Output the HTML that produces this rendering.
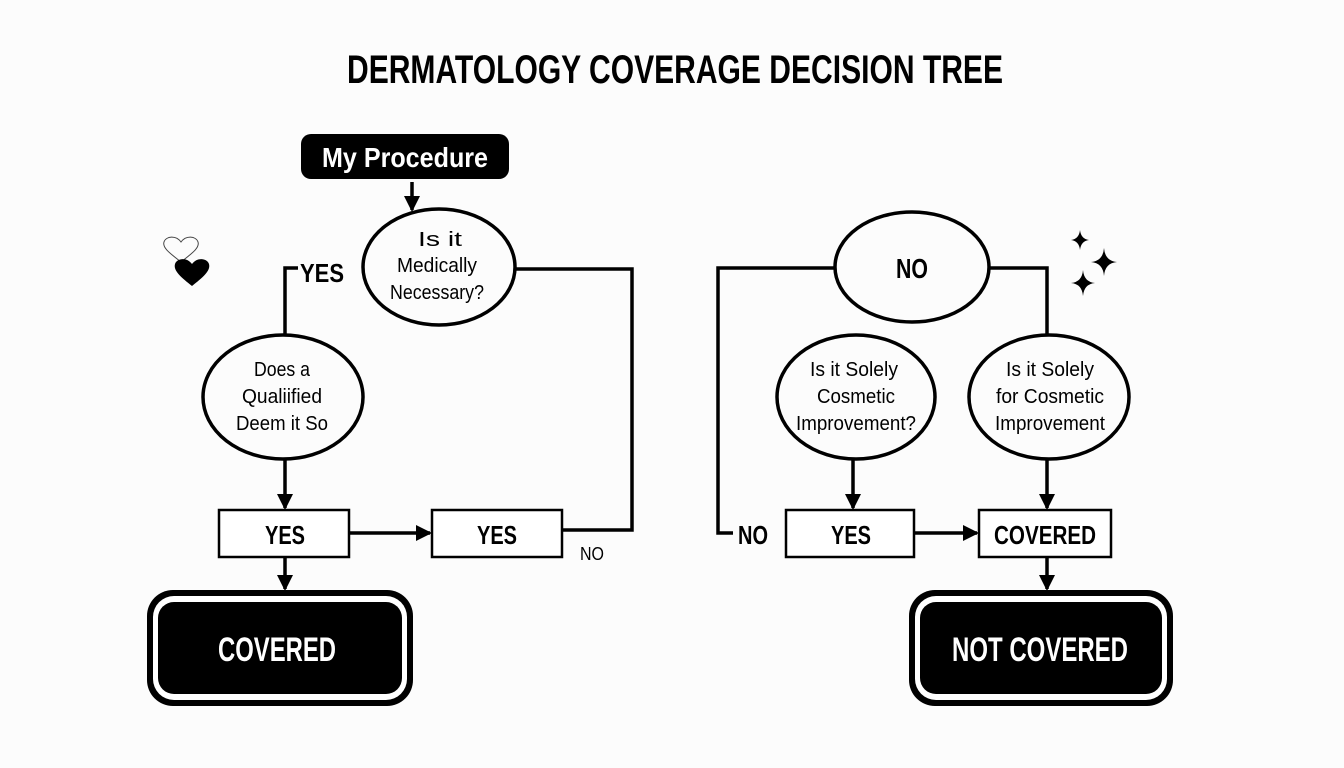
<!DOCTYPE html>
<html><head><meta charset="utf-8"><style>
html,body{margin:0;padding:0;background:#fcfcfc;}
svg{display:block}
text{font-family:"Liberation Sans Narrow","Liberation Sans",sans-serif;text-anchor:middle;fill:#000;}
</style></head><body>
<svg width="1344" height="768" viewBox="0 0 1344 768" xmlns="http://www.w3.org/2000/svg">
<defs>
<marker id="a" markerWidth="10" markerHeight="10" refX="8" refY="5" orient="auto" markerUnits="userSpaceOnUse">
<path d="M0,0 L10,5 L0,10 z" fill="#000"/></marker>
<marker id="b" markerWidth="16" markerHeight="16" refX="14" refY="8" orient="auto" markerUnits="userSpaceOnUse">
<path d="M0,0 L16,8 L0,16 z" fill="#000"/></marker>
</defs>
<rect width="1344" height="768" fill="#fcfcfc"/>
<text x="675" y="83" font-size="40" font-weight="bold" textLength="656" lengthAdjust="spacingAndGlyphs">DERMATOLOGY COVERAGE DECISION TREE</text>

<!-- My Procedure -->
<rect x="301" y="134" width="208" height="45" rx="10" fill="#000"/>
<text x="405" y="167" font-size="28" font-weight="bold" fill="#fff" style="fill:#fff" textLength="166" lengthAdjust="spacingAndGlyphs">My Procedure</text>
<g stroke="#000" stroke-width="3.5" fill="none">
<line x1="412" y1="182" x2="412" y2="210" marker-end="url(#b)"/>
<ellipse cx="439" cy="267" rx="76" ry="58"/>
<polyline points="515,269 632,269 632,530 562,530"/>
<polyline points="298,268 285,268 285,336"/>
<ellipse cx="283" cy="397" rx="80" ry="62"/>
<line x1="285" y1="459" x2="285" y2="508" marker-end="url(#b)"/>
<line x1="349" y1="533" x2="430" y2="533" marker-end="url(#b)"/>
<line x1="285" y1="557" x2="285" y2="589" marker-end="url(#b)"/>
<rect x="219" y="510" width="130" height="47" stroke-width="2.5" fill="#fff"/>
<rect x="432" y="510" width="130" height="47" stroke-width="2.5" fill="#fff"/>
<!-- right -->
<ellipse cx="912" cy="267" rx="77" ry="55"/>
<polyline points="835,268 718,268 718,533 733,533"/>
<polyline points="989,268 1047,268 1047,336"/>
<ellipse cx="856" cy="397" rx="79" ry="62"/>
<ellipse cx="1049" cy="397" rx="80" ry="62"/>
<line x1="853" y1="459" x2="853" y2="508" marker-end="url(#b)"/>
<line x1="1047" y1="459" x2="1047" y2="508" marker-end="url(#b)"/>
<line x1="914" y1="533" x2="977" y2="533" marker-end="url(#b)"/>
<line x1="1047" y1="557" x2="1047" y2="589" marker-end="url(#b)"/>
<rect x="786" y="510" width="128" height="47" stroke-width="2.5" fill="#fff"/>
<rect x="979" y="510" width="132" height="47" stroke-width="2.5" fill="#fff"/>
</g>

<text x="440" y="246" font-size="20" textLength="44" lengthAdjust="spacingAndGlyphs">Is it</text>
<text x="437" y="272" font-size="20" textLength="80" lengthAdjust="spacingAndGlyphs">Medically</text>
<text x="437" y="299" font-size="20" textLength="94" lengthAdjust="spacingAndGlyphs">Necessary?</text>
<text x="322" y="282" font-size="26" font-weight="bold" textLength="44" lengthAdjust="spacingAndGlyphs">YES</text>
<text x="282" y="376" font-size="20" textLength="56" lengthAdjust="spacingAndGlyphs">Does a</text>
<text x="282" y="403" font-size="20" textLength="80" lengthAdjust="spacingAndGlyphs">Qualiified</text>
<text x="282" y="430" font-size="20" textLength="92" lengthAdjust="spacingAndGlyphs">Deem it So</text>
<text x="285" y="544" font-size="26" font-weight="bold" textLength="40" lengthAdjust="spacingAndGlyphs">YES</text>
<text x="497" y="544" font-size="26" font-weight="bold" textLength="40" lengthAdjust="spacingAndGlyphs">YES</text>
<text x="592" y="560" font-size="18" textLength="24" lengthAdjust="spacingAndGlyphs">NO</text>

<text x="912" y="278" font-size="28" font-weight="bold" textLength="32" lengthAdjust="spacingAndGlyphs">NO</text>
<text x="753" y="544" font-size="26" font-weight="bold" textLength="30" lengthAdjust="spacingAndGlyphs">NO</text>
<text x="854" y="376" font-size="20" textLength="88" lengthAdjust="spacingAndGlyphs">Is it Solely</text>
<text x="856" y="403" font-size="20" textLength="78" lengthAdjust="spacingAndGlyphs">Cosmetic</text>
<text x="856" y="430" font-size="20" textLength="120" lengthAdjust="spacingAndGlyphs">Improvement?</text>
<text x="1050" y="376" font-size="20" textLength="88" lengthAdjust="spacingAndGlyphs">Is it Solely</text>
<text x="1050" y="403" font-size="20" textLength="108" lengthAdjust="spacingAndGlyphs">for Cosmetic</text>
<text x="1050" y="430" font-size="20" textLength="110" lengthAdjust="spacingAndGlyphs">Improvement</text>
<text x="851" y="544" font-size="26" font-weight="bold" textLength="40" lengthAdjust="spacingAndGlyphs">YES</text>
<text x="1045" y="544" font-size="26" font-weight="bold" textLength="102" lengthAdjust="spacingAndGlyphs">COVERED</text>

<!-- terminal boxes -->
<rect x="147" y="590" width="266" height="116" rx="26" fill="#000"/>
<rect x="153" y="596" width="254" height="104" rx="21" fill="#fff"/>
<rect x="158" y="602" width="244" height="92" rx="16" fill="#000"/>
<text x="277" y="661" font-size="34" font-weight="bold" style="fill:#fff" textLength="118" lengthAdjust="spacingAndGlyphs">COVERED</text>
<rect x="909" y="590" width="264" height="116" rx="26" fill="#000"/>
<rect x="915" y="596" width="252" height="104" rx="21" fill="#fff"/>
<rect x="920" y="602" width="242" height="92" rx="16" fill="#000"/>
<text x="1040" y="661" font-size="34" font-weight="bold" style="fill:#fff" textLength="176" lengthAdjust="spacingAndGlyphs">NOT COVERED</text>

<!-- hearts -->
<path d="M181,262 C171,254 162,248 164,242 C166,236 176,235 181,242 C186,235 196,236 198,242 C200,248 191,254 181,262 z" fill="none" stroke="#444" stroke-width="1"/>
<path d="M192,286 C182,278 173,271 175,264 C177,258 187,257 192,264 C197,257 207,258 209,264 C211,271 202,278 192,286 z" fill="#000"/>
<!-- stars -->
<path d="M1080,230 Q1081,239 1089,240 Q1081,241 1080,250 Q1079,241 1071,240 Q1079,239 1080,230 z" fill="#000"/>
<path d="M1104,248 Q1105,261 1117,262 Q1105,263 1104,276 Q1103,263 1091,262 Q1103,261 1104,248 z" fill="#000"/>
<path d="M1083,270 Q1084,282 1095,283 Q1084,284 1083,296 Q1082,284 1071,283 Q1082,282 1083,270 z" fill="#000"/>
</svg>
</body></html>
